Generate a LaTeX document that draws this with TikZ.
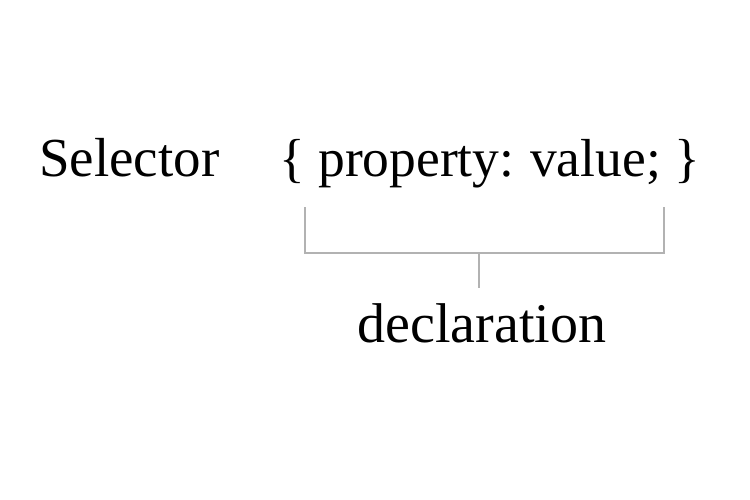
\documentclass[tikz,border=0pt]{standalone}
\usepackage{fontspec}
\setmainfont{Liberation Serif}
\begin{document}
\begin{tikzpicture}[x=1pt,y=-1pt,
  lbl/.style={inner sep=0pt,font=\fontsize{53.5}{60}\selectfont},
  bracketline/.style={draw=black!30,line width=1.6pt}]
\useasboundingbox (0,0) rectangle (750,500);
\node[lbl,anchor=base west,font=\fontsize{55}{60}\selectfont] (sel) at (39,176) {Selector};
\node[lbl,anchor=base west] (decl) at (279,177) {\{ property:\kern-2pt{} value; \}};
\node[lbl,anchor=base,font=\fontsize{56}{60}\selectfont] (dlab) at (482,342) {declaration};
\coordinate (tl) at (305,207);
\coordinate (tr) at (664,207);
\coordinate (bl) at (305,253);
\coordinate (br) at (664,253);
\coordinate (stemtop) at (479,253);
\coordinate (stembot) at (479,288);
\draw[bracketline] (tl) -- (bl) -- (br) -- (tr);
\draw[bracketline] (stemtop) -- (stembot);
\end{tikzpicture}
\end{document}
